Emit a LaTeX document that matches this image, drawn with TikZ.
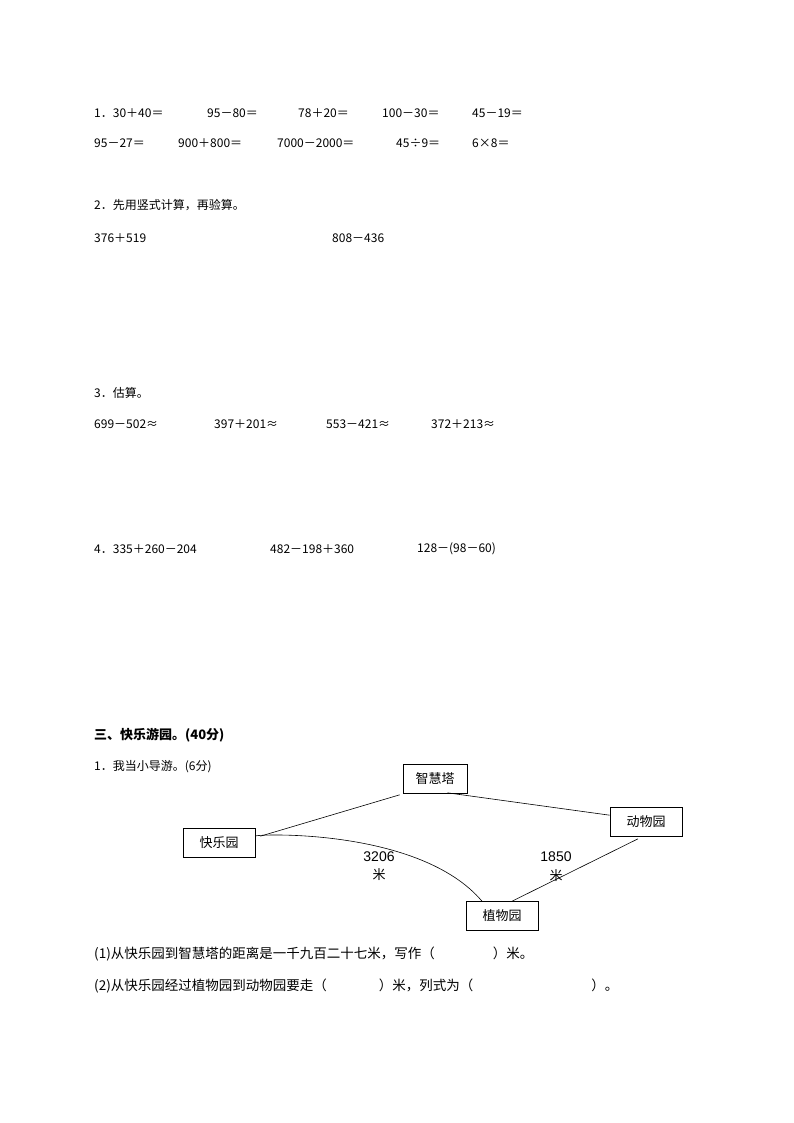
\documentclass[tikz,border=0pt]{standalone}
\usepackage{fontspec}
\setmainfont{Noto Sans CJK SC}
\newfontfamily\numf{Liberation Sans}
\begin{document}
\begin{tikzpicture}[x=1pt,y=-1pt,
 t/.style={anchor=west,inner sep=0pt,font=\fontsize{12}{14}\selectfont},
 qt/.style={anchor=west,inner sep=0pt,font=\fontsize{13.5}{15}\selectfont},
 bx/.style={draw,line width=0.6pt,minimum height=29pt,inner sep=0pt,font=\fontsize{13}{14}\selectfont},
 ln/.style={line width=0.6pt}]
\useasboundingbox (0,0) rectangle (794,1123);
\node[t] (a1) at (94,113) {1．30＋40＝};
\node[t] (a2) at (207,113) {95－80＝};
\node[t] (a3) at (298,113) {78＋20＝};
\node[t] (a4) at (382,113) {100－30＝};
\node[t] (a5) at (472,113) {45－19＝};
\node[t] (b1) at (94,143) {95－27＝};
\node[t] (b2) at (178,143) {900＋800＝};
\node[t] (b3) at (277,143) {7000－2000＝};
\node[t] (b4) at (396,143) {45÷9＝};
\node[t] (b5) at (472,143) {6×8＝};
\node[t] (c0) at (94,205) {2．先用竖式计算，再验算。};
\node[t] (c1) at (94,238) {376＋519};
\node[t] (c2) at (332,238) {808－436};
\node[t] (d0) at (94,393) {3．估算。};
\node[t] (d1) at (94,424) {699－502≈};
\node[t] (d2) at (214,424) {397＋201≈};
\node[t] (d3) at (326,424) {553－421≈};
\node[t] (d4) at (431,424) {372＋213≈};
\node[t] (e1) at (94,549) {4．335＋260－204};
\node[t] (e2) at (270,549) {482－198＋360};
\node[t] (e3) at (417,549) {128－(98－60)};
\node[t,font=\fontsize{13}{15}\selectfont\bfseries] (h) at (94,735) {三、快乐游园。(40分)};
\node[t] (f0) at (94,767) {1．我当小导游。(6分)};
\node[bx,minimum width=64pt] (zh) at (435,779) {智慧塔};
\node[bx,minimum width=72pt] (dw) at (646,822) {动物园};
\node[bx,minimum width=72pt] (kl) at (219,843) {快乐园};
\node[bx,minimum width=72pt] (zw) at (502,916) {植物园};
\draw[ln] ([xshift=5pt,yshift=-8pt]kl.north east) -- ([xshift=-3pt,yshift=-1pt]zh.south west);
\draw[ln] ([xshift=-20pt,yshift=1pt]zh.south east) -- ([yshift=-8pt]dw.north west);
\draw[ln] ([yshift=7pt]kl.east) .. controls (258,834) and (420,828) .. ([xshift=-20pt]zw.north);
\draw[ln] ([xshift=10pt]zw.north) -- ([xshift=-8pt,yshift=-2pt]dw.south);
\node[font=\numf\fontsize{14}{15}\selectfont,inner sep=0pt] (n1) at (379,857) {3206};
\node[font=\fontsize{13}{14}\selectfont,inner sep=0pt] (m1) at (379,875) {米};
\node[font=\numf\fontsize{14}{15}\selectfont,inner sep=0pt] (n2) at (556,857) {1850};
\node[font=\fontsize{13}{14}\selectfont,inner sep=0pt] (m2) at (556,876) {米};
\node[qt] (q1) at (94,954) {(1)从快乐园到智慧塔的距离是一千九百二十七米，写作（\hspace{58pt}）米。};
\node[qt] (q2) at (94,986) {(2)从快乐园经过植物园到动物园要走（\hspace{52pt}）米，列式为（\hspace{118pt}）。};
\end{tikzpicture}
\end{document}
